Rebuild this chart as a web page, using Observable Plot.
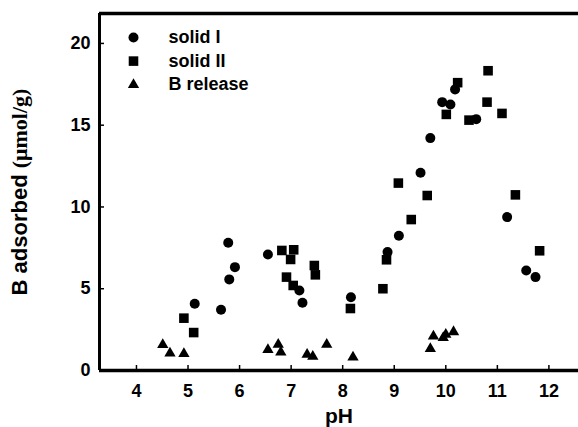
<!DOCTYPE html>
<html>
<head>
<meta charset="utf-8">
<script src="https://cdn.jsdelivr.net/npm/d3@7"></script>
<script src="https://cdn.jsdelivr.net/npm/@observablehq/plot@0.6"></script>
<style>
  html, body { margin: 0; padding: 0; background: #fff; }
  svg text { font-family: "Liberation Sans", Arial, sans-serif; font-weight: bold; }
</style>
</head>
<body>
<div id="chart"></div>
<script>
// solid I (circles)
const ph1  = [5.13, 5.64, 5.78, 5.80, 5.91, 6.55, 7.16, 7.22, 8.16, 8.87, 9.09, 9.51, 9.70, 9.93, 10.09, 10.18, 10.59, 11.19, 11.56, 11.74];
const ads1 = [4.08, 3.71, 7.81, 5.57, 6.32, 7.09, 4.89, 4.14, 4.48, 7.24, 8.24, 12.09, 14.21, 16.41, 16.27, 17.19, 15.37, 9.38, 6.12, 5.71];
// solid II (squares)
const ph2  = [4.92, 5.11, 6.82, 6.91, 6.99, 7.04, 7.05, 7.45, 7.47, 8.15, 8.78, 8.85, 9.08, 9.33, 9.64, 10.01, 10.23, 10.45, 10.80, 10.82, 11.09, 11.35, 11.82];
const ads2 = [3.20, 2.32, 7.34, 5.71, 6.79, 5.20, 7.38, 6.42, 5.85, 3.79, 5.00, 6.77, 11.46, 9.23, 10.70, 15.66, 17.60, 15.31, 16.41, 18.33, 15.72, 10.74, 7.32];
// B release (triangles)
const ph3  = [4.51, 4.65, 4.92, 6.55, 6.75, 6.80, 7.31, 7.42, 7.69, 8.20, 9.70, 9.76, 9.95, 10.00, 10.15];
const ads3 = [1.57, 1.06, 1.02, 1.27, 1.59, 1.12, 0.98, 0.86, 1.59, 0.81, 1.33, 2.10, 2.00, 2.20, 2.36];

const xTicks = [4, 5, 6, 7, 8, 9, 10, 11, 12];
const yTicks = [0, 5, 10, 15, 20];
const xDomain = [3.283, 12.574];
const yDomain = [0, 21.83];
const seriesNames = ["solid I", "solid II", "B release"];
const seriesSymbols = ["circle", "square", "triangle"];
const seriesR = [5, 5.4, 4.2];

const toRows = (xs, ys) => xs.map((x, i) => ({x, y: ys[i]}));
const s1 = toRows(ph1, ads1), s2 = toRows(ph2, ads2), s3 = toRows(ph3, ads3);
const allSeries = [s1, s2, s3];

const legendMarks = seriesNames.flatMap((name, i) => [
  Plot.dot([name], {frameAnchor: "top-left", dx: 34, dy: 24 + i * 23.6, symbol: seriesSymbols[i], r: seriesR[i], fill: "black", stroke: "none"}),
  Plot.text([name], {frameAnchor: "top-left", dx: 69, dy: 24 + i * 23.6, text: d => d, textAnchor: "start", lineAnchor: "middle", fontSize: 18, fontWeight: "bold", fill: "black"})
]);

const chart = Plot.plot({
  width: 578,
  height: 427,
  marginLeft: 99,
  marginTop: 13,
  marginBottom: 57,
  marginRight: 0,
  style: {fontFamily: "Liberation Sans, Arial, sans-serif", background: "white", color: "black", overflow: "visible"},
  x: {domain: xDomain},
  y: {domain: yDomain},
  marks: [
    // inward ticks
    Plot.axisX(xTicks, {tickSize: 5, dy: -5, tickFormat: () => "", strokeWidth: 1.5, label: null}),
    Plot.axisY(yTicks, {tickSize: 5, dx: 5, tickFormat: () => "", strokeWidth: 1.5, label: null}),
    // labels
    Plot.axisX(xTicks, {tickSize: 0, tickPadding: 14, fontSize: 18, fontWeight: "bold", label: null}),
    Plot.axisY(yTicks, {tickSize: 0, tickPadding: 9, fontSize: 18, fontWeight: "bold", label: null}),
    // frame lines (left, top, bottom)
    Plot.ruleX([xDomain[0]], {strokeWidth: 3, stroke: "black"}),
    Plot.ruleY([yDomain[1]], {strokeWidth: 3.5, stroke: "black"}),
    Plot.ruleY([0], {strokeWidth: 3.5, stroke: "black"}),
    // data
    ...allSeries.map((s, i) => Plot.dot(s, {x: "x", y: "y", symbol: () => seriesSymbols[i], r: seriesR[i], fill: "black", stroke: "none"})),
    ...legendMarks,
    // axis titles
    Plot.text(["pH"], {frameAnchor: "bottom", textAnchor: "middle", lineAnchor: "bottom", dy: 52, text: d => d, fontSize: 21, fontWeight: "bold", fill: "black", className: "xlabel"}),
    Plot.text(["B adsorbed (μmol/g)"], {frameAnchor: "left", textAnchor: "middle", lineAnchor: "middle", dx: -80, rotate: -90, text: d => d, fontSize: 22, fontWeight: "bold", fill: "black", className: "ylabel"})
  ]
});

document.getElementById("chart").appendChild(chart);

// mixed fonts in y label: serif for the unit part
const yl = d3.select(chart).select("g.ylabel text");
if (!yl.empty()) {
  yl.text(null);
  yl.append("tspan").text("B adsorbed ");
  yl.append("tspan").attr("font-family", "Liberation Serif, Times New Roman, serif").text("(μmol/g)");
}
</script>
</body>
</html>
